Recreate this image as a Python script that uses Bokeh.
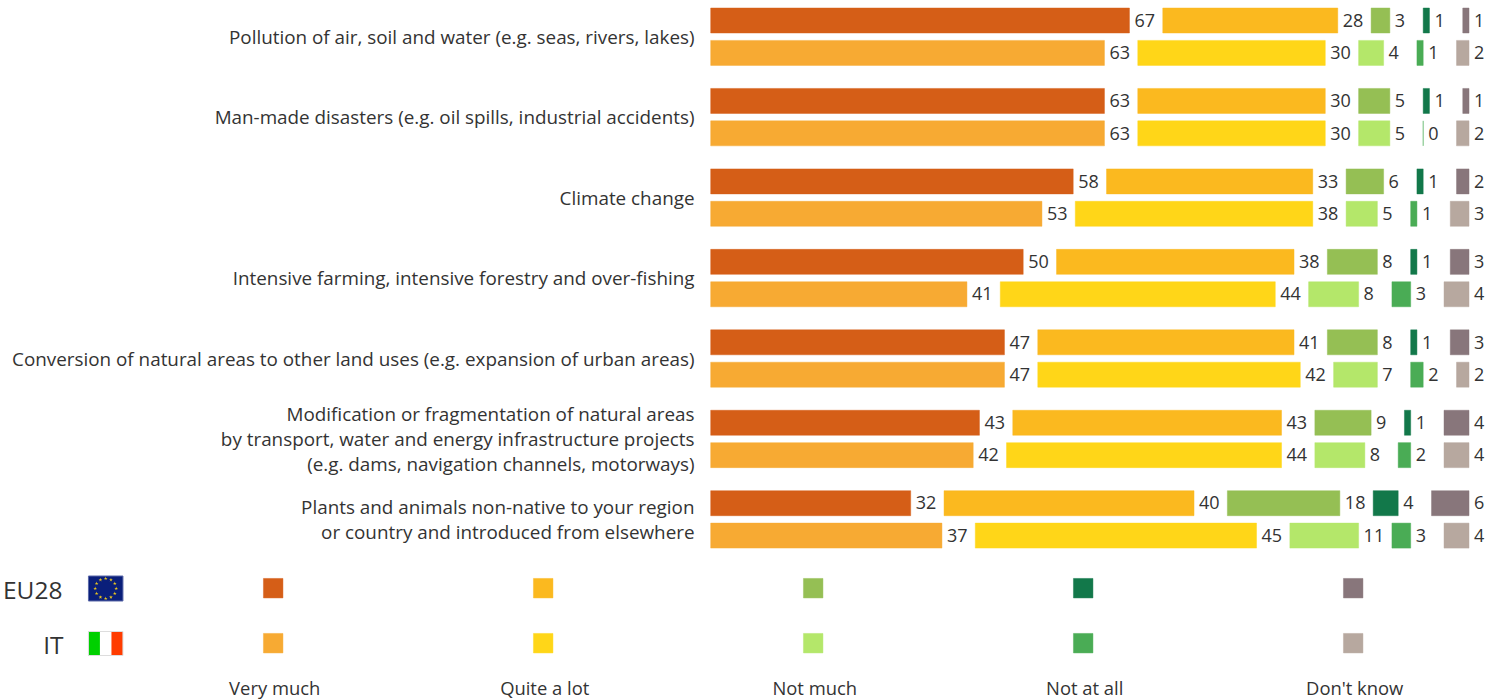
from bokeh.plotting import figure
from bokeh.models import Range1d, ColumnDataSource
from bokeh.core.properties import value
from bokeh.embed import file_html
from bokeh.resources import INLINE
import math

categories = [
    "Pollution of air, soil and water (e.g. seas, rivers, lakes)",
    "Man-made disasters (e.g. oil spills, industrial accidents)",
    "Climate change",
    "Intensive farming, intensive forestry and over-fishing",
    "Conversion of natural areas to other land uses (e.g. expansion of urban areas)",
    "Modification or fragmentation of natural areas\nby transport, water and energy infrastructure projects\n(e.g. dams, navigation channels, motorways)",
    "Plants and animals non-native to your region\nor country and introduced from elsewhere",
]
responses = ["Very much", "Quite a lot", "Not much", "Not at all", "Don't know"]
eu28 = [
    [67, 28, 3, 1, 1],
    [63, 30, 5, 1, 1],
    [58, 33, 6, 1, 2],
    [50, 38, 8, 1, 3],
    [47, 41, 8, 1, 3],
    [43, 43, 9, 1, 4],
    [32, 40, 18, 4, 6],
]
it = [
    [63, 30, 4, 1, 2],
    [63, 30, 5, 0, 2],
    [53, 38, 5, 1, 3],
    [41, 44, 8, 3, 4],
    [47, 42, 7, 2, 2],
    [42, 44, 8, 2, 4],
    [37, 45, 11, 3, 4],
]
eu_colors = ["#D55E17", "#FBB91F", "#95BF54", "#12784A", "#88767B"]
it_colors = ["#F7AA33", "#FFD618", "#B4E76A", "#4AAC55", "#B7A89F"]

FONT = "Open Sans"
TEXT = "#333333"
PX = 6.25          # pixels per percentage point
X0 = 710.2         # pixel of 0 %
GAP = 33.33 / PX   # gap (in % units) reserved for each value label
ROW0, ROW_STEP = 36.2, 80.45
OFF = 16.2
BAR_H = 25


def xd(px):
    return (px - X0) / PX


p = figure(width=1496, height=700, output_backend="svg", toolbar_location=None,
           x_range=Range1d(xd(0), xd(1496)), y_range=Range1d(700, 0),
           min_border=0, outline_line_color=None)
p.axis.visible = False
p.grid.visible = False

L, R, Y, C, LX, LY, LT = [], [], [], [], [], [], []
for i in range(len(categories)):
    yc = ROW0 + i * ROW_STEP
    for vals, cols, y in ((eu28[i], eu_colors, yc - OFF), (it[i], it_colors, yc + OFF)):
        cum = 0.0
        for v, c in zip(vals, cols):
            L.append(cum)
            R.append(cum + v)
            Y.append(y)
            C.append(c)
            LX.append(cum + v + 5 / PX)
            LY.append(y - 0.3)
            LT.append(str(v))
            cum += v + GAP

p.hbar(y="y", left="l", right="r", height=BAR_H, fill_color="c", line_color="c",
       line_alpha=0.45, line_width=1,
       source=ColumnDataSource(dict(y=Y, l=L, r=R, c=C)))
p.text(x="x", y="y", text="t", text_font=value(FONT), text_font_size="18px",
       text_color=TEXT, text_baseline="middle", text_align="left",
       source=ColumnDataSource(dict(x=LX, y=LY, t=LT)))

p.text(x=[xd(694)] * len(categories),
       y=[ROW0 + i * ROW_STEP + 0.3 for i in range(len(categories))],
       text=categories, text_font=value(FONT), text_font_size="18.85px",
       text_color=TEXT, text_align="right", text_baseline="middle", text_line_height=0.955)

# legend
LEG_X = [272.7 + 270 * i for i in range(5)]
p.rect(x=[xd(v) for v in LEG_X], y=[587.7] * 5, width=19.5 / PX, height=19.5,
       fill_color=eu_colors, line_color=eu_colors, line_alpha=0.45)
p.rect(x=[xd(v) for v in LEG_X], y=[642.7] * 5, width=19.5 / PX, height=19.5,
       fill_color=it_colors, line_color=it_colors, line_alpha=0.45)
p.text(x=[xd(v + 1.5) for v in LEG_X], y=[687] * 5, text=responses, text_font=value(FONT),
       text_font_size="18.4px", text_color=TEXT, text_align="center", text_baseline="middle")
p.text(x=[xd(62), xd(63)], y=[589, 644], text=["EU28", "IT"], text_font=value(FONT),
       text_font_size="24.5px", text_color=TEXT, text_align="right", text_baseline="middle")

# flags
p.rect(x=[xd(105.2)], y=[588], width=34.5 / PX, height=25, fill_color="#0A1F7A",
       line_color="#5a68a8", line_width=1)
p.scatter(x=[xd(105.2 + 10.5 * math.sin(k * math.pi / 6)) for k in range(12)],
          y=[588 - 10 * math.cos(k * math.pi / 6) for k in range(12)],
          marker="star", size=4, fill_color="#E8C420", line_color=None)
p.rect(x=[xd(93.7), xd(105.2), xd(116.7)], y=[643] * 3, width=[11.5 / PX] * 3, height=24,
       fill_color=["#00D000", "#FFFFFF", "#FF3C00"], line_color=None)
p.rect(x=[xd(105.2)], y=[643], width=34.5 / PX, height=24, fill_color=None,
       line_color="#dddddd", line_width=1)

open("out.html", "w").write(file_html(p, INLINE))
